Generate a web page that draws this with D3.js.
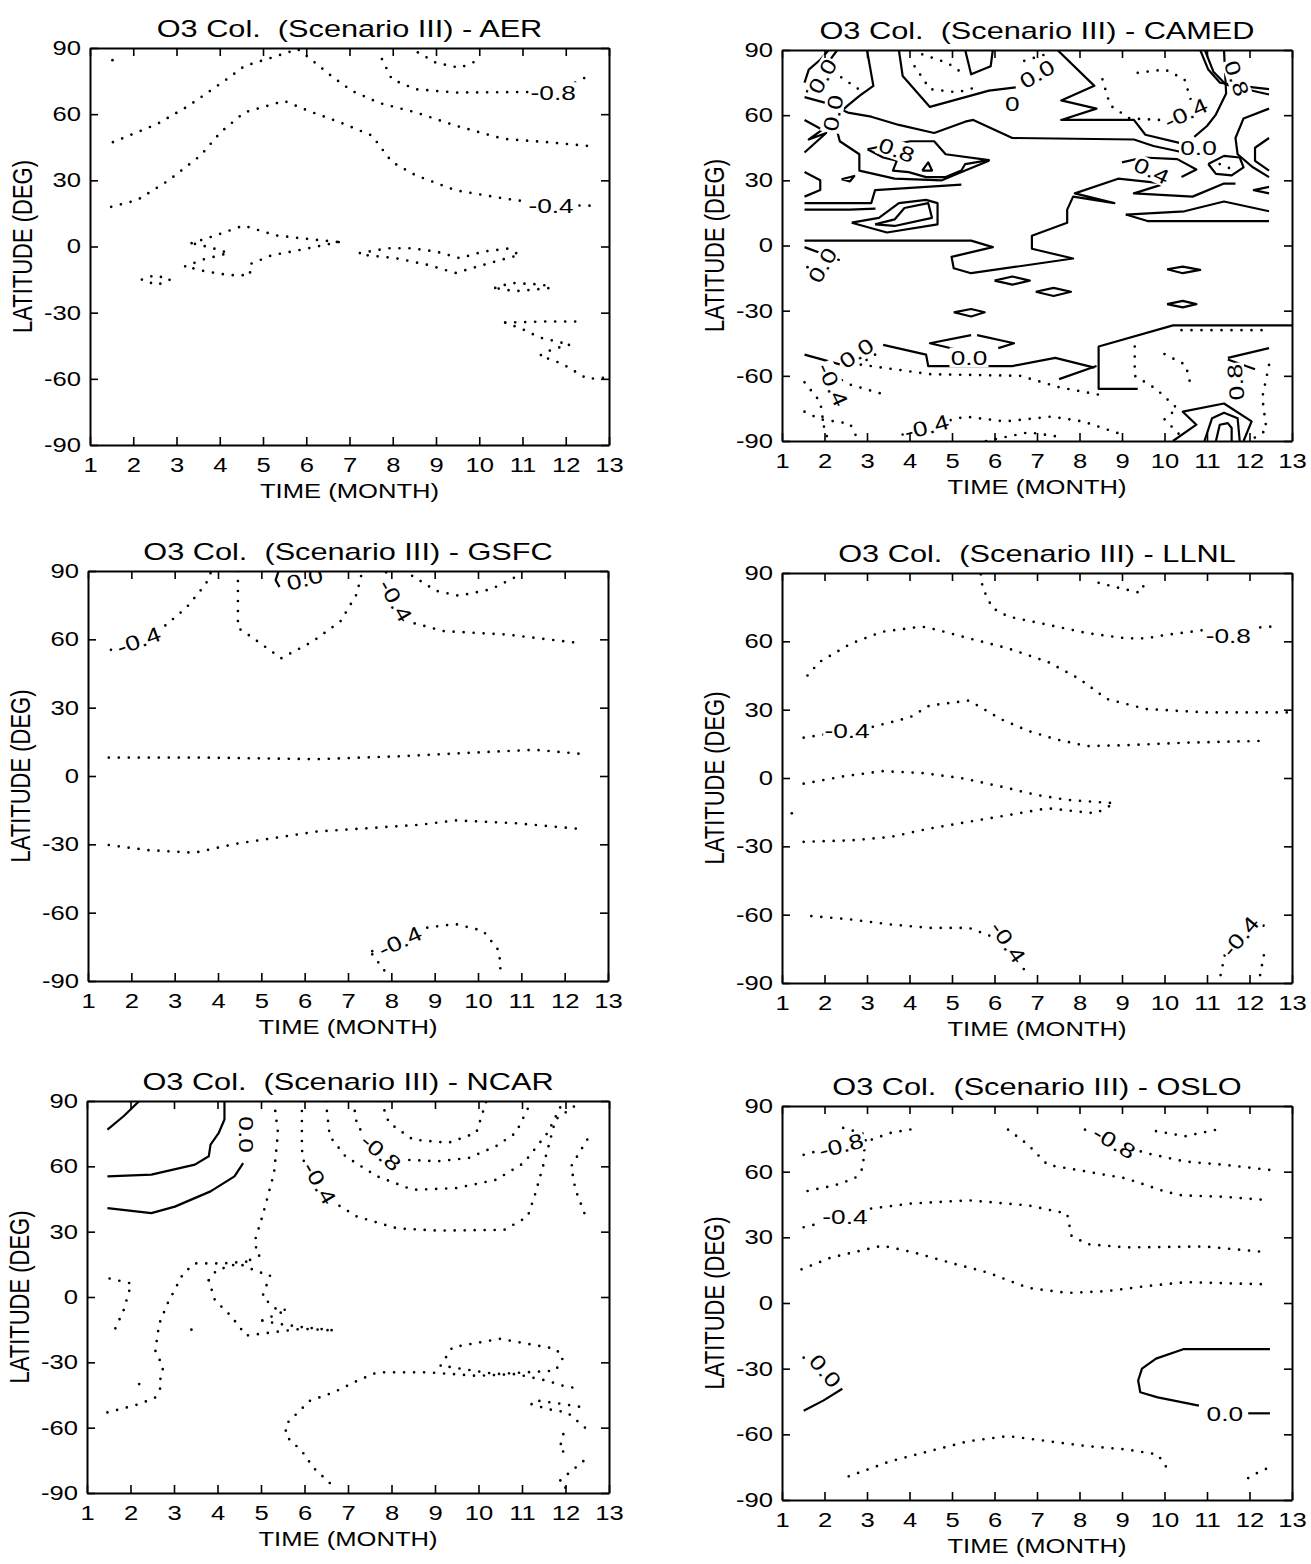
<!DOCTYPE html>
<html>
<head>
<meta charset="utf-8">
<script src="https://cdn.jsdelivr.net/npm/d3@7"></script>
<style>
body { margin: 0; background: #fff; }
svg text { font-family: "Liberation Sans", Arial, sans-serif; fill: #000; }
</style>
</head>
<body>
<svg id="chart" width="1311" height="1564"></svg>
<script>
// axis ticks
const monthTicks = d3.range(1, 14);
const latTicks = [-90, -60, -30, 0, 30, 60, 90];
const models = ['AER', 'CAMED', 'GSFC', 'LLNL', 'NCAR', 'OSLO'];

// contour polylines, [month, latitude]; "neg" = negative levels (dotted), "pos" = zero/positive (solid)
const aerNeg = [
  [[1.52, 84.5], [1.53, 84.5]],
  [[1.53, 47.3], [2.55, 55.5], [3.28, 63.8], [4.16, 75.8], [4.57, 81.8], [5.31, 86.3], [5.8, 89.5], [6.1, 85], [6.6, 77], [7.06, 70.5], [7.7, 65], [8.53, 60.8], [9.45, 54.8], [10.56, 48.8], [11.57, 47.3], [12.58, 45.5]],
  [[1.49, 18], [2.09, 21], [2.82, 30], [3.56, 41.3], [4.02, 51.8], [4.57, 60.8], [5.49, 66], [6.05, 61.5], [6.78, 56.3], [7.52, 50.3], [7.98, 38.3], [8.53, 32.3], [9.45, 25.5], [10.56, 21.8], [11.66, 18.8], [12.58, 18.5]],
  [[7.75, 85], [7.98, 75.8], [8.53, 71.3], [9.45, 69.8], [10.83, 70], [11.7, 70], [12.3, 75], [12.58, 78]],
  [[8.58, 88], [9.0, 83.3], [9.55, 81], [10.05, 85]],
  [[3.35, 1.5], [3.9, 5], [4.55, 9.5], [5.3, 5], [6.0, 3.5], [6.75, 2]],
  [[6.75, 2], [6.0, -1], [5.2, -4], [4.7, -8], [4.7, -13], [4.2, -13], [3.6, -11], [3.2, -9]],
  [[3.2, -9], [3.6, -6], [4.2, -3], [3.8, -0.5], [3.35, 1.5]],
  [[2.2, -15], [2.5, -13], [2.85, -15], [2.55, -17.5], [2.2, -15]],
  [[7.24, -3], [7.89, -0.8], [8.44, -0.8], [9.0, -2.3], [9.55, -5.3], [10.1, -2.3], [10.65, -1], [10.93, -3.8], [10.37, -6.8], [9.45, -12], [8.8, -8.3], [8.07, -5.3], [7.33, -3.8]],
  [[10.37, -18.8], [10.74, -16.5], [11.47, -17.3], [11.66, -18.8], [10.83, -20.3], [10.37, -18.8]],
  [[10.6, -34.5], [11.5, -34], [12.4, -34]],
  [[10.6, -34.5], [11.0, -37.5], [11.4, -41.3], [12.1, -44.5], [11.7, -46.5], [11.4, -49.5], [11.9, -53], [12.5, -60], [12.95, -59.5]]
];
const aerPos = [];
const aerLabels = [
  { t: '-0.8', m: 11.71, lat: 70, a: 0 },
  { t: '-0.4', m: 11.66, lat: 18.6, a: 0 }
];

const camedPos = [
  [[1.53, 75], [1.63, 81], [1.9, 85.5], [2.1, 90]],
  [[1.58, 70.5], [1.72, 77], [2.04, 83], [2.3, 90]],
  [[1.53, 68.3], [2.09, 65.3], [2.55, 61.2], [3.1, 59.3], [3.75, 55.5], [4.58, 51.8], [5.31, 57], [5.5, 57.8], [6.42, 49.5], [9.28, 48.8], [9.74, 45.8], [10.29, 43.5], [10.75, 41.3]],
  [[3.0, 90], [3.15, 73.5], [2.83, 69], [2.55, 64.5], [2.3, 60]],
  [[3.75, 90], [3.84, 78], [4.48, 63.8], [5.87, 71.3], [6.5, 72.8]],
  [[5.31, 90], [5.45, 78.8], [5.91, 82.5], [5.96, 90]],
  [[7.48, 90], [8.35, 73.5], [7.57, 66.8], [8.4, 63], [7.57, 57.8], [9.28, 57.8], [9.55, 51], [10.4, 47], [10.75, 44]],
  [[3.01, 44.3], [3.38, 45.8], [4.02, 48], [4.58, 48], [4.85, 42], [5.87, 39.3], [5.31, 37.5], [5.22, 34.5], [4.85, 31.5], [4.39, 31.5], [3.98, 33.8], [3.61, 34.5], [3.7, 39], [3.38, 40.5], [3.01, 44.3]],
  [[4.3, 34.5], [4.44, 38.3], [4.53, 34.5], [4.3, 34.5]],
  [[1.53, 57.8], [1.95, 53.3], [1.63, 48.8], [2.04, 51.8], [1.53, 42.8]],
  [[2.09, 61.5], [2.27, 54.8], [2.36, 48], [2.82, 42], [2.82, 34.5], [3.65, 30.8], [4.76, 30], [5.31, 34.5], [5.87, 39]],
  [[1.53, 33.8], [1.9, 30], [1.9, 25.5], [1.53, 22.5]],
  [[2.4, 30.5], [2.7, 32], [2.6, 29.5], [2.4, 30.5]],
  [[1.53, 19.5], [3.1, 19.5], [3.19, 25.5], [5.22, 28]],
  [[1.53, 16.5], [2.6, 16.5], [3.2, 17]],
  [[2.64, 10.5], [3.28, 12.75], [3.75, 19.5], [4.39, 21], [4.66, 19.5], [4.66, 9.75], [3.47, 6], [2.64, 10.5]],
  [[3.19, 9.75], [3.65, 12], [3.88, 17.25], [4.44, 19.5], [4.53, 12.75], [3.65, 9], [3.19, 9.75]],
  [[1.53, 2.25], [5.45, 2.25], [5.96, -0.75], [4.99, -5.25], [5.04, -10.5], [5.45, -12.75], [7.85, -6], [6.88, -1.5], [6.88, 4.5], [7.71, 10.5], [7.71, 16.5], [7.85, 22.5], [8.82, 19.5], [7.89, 24], [8.91, 30.75], [10.01, 28.5], [9.28, 24], [10.66, 22.5], [11.4, 28.5], [11.67, 28.5]],
  [[9.09, 14.25], [10.47, 15.75], [11.4, 20.25], [12.46, 15.75]],
  [[9.09, 14.25], [9.6, 11.25], [12.46, 11.25]],
  [[9.0, 38.25], [9.5, 40.5], [10.3, 39.75], [10.75, 35], [10.4, 31.5]],
  [[11.03, 37.5], [11.4, 41.25], [11.77, 40.5], [11.86, 36], [11.58, 32.25], [11.21, 33], [11.03, 37.5]],
  [[10.84, 90], [11.03, 81], [11.3, 75], [11.77, 73.5], [12.46, 72]],
  [[10.95, 90], [11.15, 80], [11.45, 74], [12.46, 69.5]],
  [[11.4, 90], [11.45, 70], [11.2, 60], [11.0, 55], [10.7, 50]],
  [[12.46, 63], [11.86, 58.5], [11.67, 49.5], [11.72, 42], [12.08, 36], [12.46, 31.5]],
  [[12.46, 49.5], [12.13, 45], [12.13, 39], [12.46, 34.5]],
  [[12.46, 27], [12.1, 25.5], [12.46, 24]],
  [[1.53, -0.75], [2.36, -6.75]],
  [[6.0, -16.2], [6.42, -14.25], [6.83, -16.2], [6.42, -18], [6.0, -16.2]],
  [[6.97, -21.3], [7.39, -19.5], [7.8, -21.3], [7.39, -23.25], [6.97, -21.3]],
  [[5.04, -30.75], [5.45, -29.25], [5.77, -30.75], [5.45, -32.7], [5.04, -30.75]],
  [[10.06, -10.95], [10.43, -9.75], [10.84, -11.25], [10.43, -12.75], [10.06, -10.95]],
  [[10.06, -27], [10.43, -25.5], [10.75, -27], [10.43, -28.5], [10.06, -27]],
  [[5.45, -41.25], [4.48, -45], [5.13, -48]],
  [[5.59, -41.25], [6.46, -45], [6.09, -47.25]],
  [[1.53, -50.25], [2.36, -54.75]],
  [[3.38, -45.75], [4.39, -50.25], [4.44, -55.5], [6.42, -55.5], [7.43, -51.75], [8.35, -56.25]],
  [[13, -36.75], [10.2, -36.75], [8.45, -46.5], [8.45, -66], [9.37, -66]],
  [[7.52, -61.5], [8.4, -55.5]],
  [[11.49, -51.75], [12.46, -47.25]],
  [[11.49, -52.5], [12.13, -57]],
  [[10.2, -90], [10.75, -82.5], [10.43, -76.5], [11.4, -72.75], [12.05, -81], [11.86, -90]],
  [[10.94, -90], [11.12, -79.5], [11.4, -77], [11.72, -79.5], [11.77, -90]],
  [[11.21, -90], [11.3, -82.5], [11.49, -81.75], [11.58, -84], [11.58, -90]]
];
const camedNeg = [
  [[4.12, 82.5], [4.48, 72], [5.13, 70.5], [5.6, 73]],
  [[4.3, 88], [4.9, 84], [5.2, 80]],
  [[6.7, 85], [7.2, 88]],
  [[8.54, 76.5], [8.72, 64.5], [9.18, 58.5], [9.92, 57.75]],
  [[9.37, 79.5], [10.01, 81], [10.47, 76.5], [10.66, 64.5], [10.38, 57]],
  [[2.2, 80], [2.5, 76], [2.8, 72]],
  [[11.3, 37.5], [11.6, 35]],
  [[1.6, -10], [1.65, -13]],
  [[3.19, -50.25], [2.82, -54.75], [3.65, -57], [4.48, -59.25], [6.6, -60], [7.52, -65.25], [8.54, -69]],
  [[1.53, -63], [1.9, -72], [2.0, -85], [2.1, -90]],
  [[1.53, -76.5], [1.9, -80], [2.6, -82], [2.8, -90]],
  [[2.2, -60], [2.6, -64], [3.3, -68]],
  [[3.84, -87], [4.39, -83.25], [5.31, -78.75], [6.24, -81], [7.34, -78.75], [8.08, -81], [9.0, -87]],
  [[5.8, -90], [6.8, -86], [7.5, -88]],
  [[10.4, -39], [11.5, -39], [12.46, -39]],
  [[9.3, -46.5], [9.3, -60], [9.8, -66], [10.3, -75], [10.0, -80], [10.4, -88]],
  [[10.0, -50], [10.5, -55], [10.6, -63]],
  [[12.46, -55], [12.3, -70], [12.4, -85], [12.0, -90]]
];
const camedLabels = [
  { t: '0.0', m: 1.95, lat: 78, a: -60 },
  { t: '0.0', m: 2.2, lat: 61, a: -80 },
  { t: '0.0', m: 7.0, lat: 79, a: -30 },
  { t: '0', m: 6.42, lat: 65.5, a: 0 },
  { t: '-0.4', m: 10.5, lat: 61, a: -25 },
  { t: '0.8', m: 3.7, lat: 44, a: 20 },
  { t: '0.0', m: 10.8, lat: 45, a: 0 },
  { t: '0.4', m: 9.7, lat: 34.5, a: 25 },
  { t: '0.8', m: 11.7, lat: 77, a: 70 },
  { t: '0.0', m: 1.95, lat: -9, a: -60 },
  { t: '0.0', m: 2.75, lat: -49.5, a: -35 },
  { t: '0.0', m: 5.4, lat: -51.5, a: 0 },
  { t: '-0.4', m: 2.2, lat: -64, a: 65 },
  { t: '-0.4', m: 4.4, lat: -83.5, a: -15 },
  { t: '0.8', m: 11.67, lat: -63, a: -95 }
];

const gsfcNeg = [
  [[1.53, 55.4], [2.17, 59.9], [2.63, 63.6], [3.27, 73.9], [3.72, 84.3], [3.85, 90]],
  [[4.46, 90], [4.46, 65], [4.64, 62.8], [5.46, 51.7], [6.19, 59.1], [6.83, 68], [7.2, 79.8], [7.33, 90]],
  [[7.88, 89.4], [8.1, 77], [8.48, 67.3], [9.21, 63.6], [10.67, 62.1], [12.32, 58.4]],
  [[8.48, 87.9], [9.03, 81.3], [9.57, 79.1], [10.3, 82], [10.85, 87.2]],
  [[1.48, 8.1], [3.54, 8.1], [6.28, 7.4], [8.11, 8.6], [9.94, 10.3], [11.31, 11.5], [12.45, 9.6]],
  [[1.48, -30.3], [2.35, -32.5], [3.45, -33.7], [4.46, -29.6], [6.28, -24.4], [8.66, -21.4], [9.48, -19.5], [10.85, -20.7], [12.45, -23.4]],
  [[7.56, -76.9], [8.16, -73.2], [8.84, -66.5], [9.48, -65], [10.12, -68], [10.49, -76.9], [10.53, -88.7]],
  [[7.56, -78.3], [7.97, -88.7]]
];
const gsfcPos = [
  [[5.4, 90], [5.33, 86], [5.42, 83]]
];
const gsfcLabels = [
  { t: '-0.4', m: 2.17, lat: 59.5, a: -20 },
  { t: '0.0', m: 6.0, lat: 86.5, a: -15 },
  { t: '-0.4', m: 8.1, lat: 77, a: 60 },
  { t: '-0.4', m: 8.2, lat: -72.5, a: -25 }
];

const llnlNeg = [
  [[5.68, 89.4], [5.72, 83.5], [5.95, 74.6], [6.32, 70.9], [7.25, 67.3], [8.18, 63.6], [9.1, 61.3], [9.56, 61.3], [10.03, 62.8], [10.95, 65], [11.5, 63], [12.16, 66], [12.53, 66.5]],
  [[8.45, 85.7], [8.92, 83.5], [9.43, 81.3], [9.56, 86.5]],
  [[1.6, 45], [1.88, 50.9], [2.62, 59], [3.36, 64.2], [4.29, 66.5], [4.66, 65], [5.4, 61.3], [6.32, 56.9], [7.25, 51], [7.99, 43.6], [8.64, 34.7], [9.56, 30.3], [10.95, 28.8], [12.06, 28.8], [13, 28.8]],
  [[1.51, 17.7], [2.53, 20.7], [3.08, 22.2], [4.01, 26.6], [4.47, 31.8], [5.4, 34], [5.68, 31], [6.14, 25.9], [6.79, 20.7], [7.44, 17], [8.18, 14], [9.1, 14.4], [10.49, 15.5], [12.34, 16.3]],
  [[1.51, -2.5], [2.44, 0.7], [3.36, 3], [4.29, 2.2], [5.21, 0], [6.14, -3.7], [6.97, -7.4], [7.71, -9.6], [8.82, -11.1]],
  [[1.51, -28], [2.62, -27.4], [3.55, -25.9], [4.47, -22.2], [5.4, -19.2], [6.32, -16.3], [7.25, -13.3], [8.36, -15.5], [8.55, -14], [8.82, -11.1]],
  [[1.23, -15.5], [1.24, -15.5]],
  [[1.69, -60.6], [2.62, -62.1], [3.55, -64.3], [4.47, -65.8], [5.4, -65.8], [6.23, -71.7], [6.5, -79], [6.79, -86.5]],
  [[11.32, -86.5], [11.42, -77.6], [11.8, -70.2], [12.25, -65], [12.53, -64.3]],
  [[12.25, -86.5], [12.34, -77.6]]
];
const llnlPos = [];
const llnlLabels = [
  { t: '-0.8', m: 11.5, lat: 62.8, a: 0 },
  { t: '-0.4', m: 2.53, lat: 20.7, a: 0 },
  { t: '-0.4', m: 6.32, lat: -72, a: 55 },
  { t: '-0.4', m: 11.78, lat: -69.5, a: -50 }
];

const ncarPos = [
  [[1.47, 76.9], [1.84, 83], [2.16, 89.2], [2.2, 90]],
  [[1.47, 55.4], [2.48, 56.2], [3.48, 60.8], [3.8, 64.6], [3.84, 70], [4.03, 75.4], [4.16, 81.5], [4.16, 90]],
  [[1.47, 40.8], [2.48, 38.5], [3.02, 41.5], [3.84, 48.5], [4.39, 55.4], [4.59, 61.5]]
];
const ncarNeg = [
  [[5.3, 90], [5.39, 75.4], [5.3, 56.9], [5.03, 36.9], [4.84, 24.6], [4.98, 19.2], [4.66, 16.2]],
  [[5.94, 90], [5.94, 67.7], [6.03, 56.9], [6.3, 52.3], [6.58, 44.6], [7.21, 36.9], [8.13, 31.5], [9.04, 30.5], [10.59, 30.8], [11.13, 36.9], [11.31, 47.7], [11.59, 67.7], [11.77, 81.5], [12.32, 89.2]],
  [[6.49, 90], [6.58, 73.8], [6.94, 64.6], [7.67, 55.4], [8.49, 49.2], [9.49, 50], [10.4, 53.8], [11.04, 61.5], [11.59, 75.4], [11.95, 90]],
  [[7.12, 90], [7.21, 78.5], [7.71, 67.7], [8.22, 63.1], [9.04, 62.3], [9.77, 63.8], [10.4, 69.2], [10.86, 75.4], [11.22, 90]],
  [[7.76, 90], [7.94, 80], [8.49, 72.3], [9.31, 70.8], [9.95, 75.4], [10.18, 90]],
  [[12.5, 72.3], [12.13, 60], [12.23, 49.2], [12.45, 37.7]],
  [[1.52, 8.5], [2.02, 6.2], [1.84, -6.2], [1.61, -16.2]],
  [[4.66, 16.2], [4.12, 15.4], [3.48, 15.4], [3.21, 10.8], [2.85, -3.1], [2.66, -12.3], [2.57, -24.6], [2.75, -32.3], [2.66, -40], [2.71, -45.4]],
  [[3.8, 7.7], [3.98, 12.3], [4.48, 15.4], [4.94, 11.5], [5.21, 10], [5.03, 0], [5.39, -6.2], [5.76, -5.4]],
  [[3.8, 7.7], [3.94, -1.5], [4.3, -8.5], [4.66, -17.7], [5.94, -14.6], [6.71, -15.4]],
  [[5.03, -10.8], [5.39, -12.3], [5.94, -13.8], [6.71, -15.4]],
  [[5.03, -10.8], [5.57, -6.2]],
  [[3.4, -15], [3.6, -15]],
  [[1.47, -53], [2.2, -49.2], [2.66, -45.4]],
  [[2.2, -40], [2.35, -37]],
  [[6.58, -85.4], [6.21, -78.5], [5.94, -70.8], [5.57, -63.8], [5.57, -58.5], [6.12, -47.7], [6.67, -43.8], [7.21, -38.5], [7.67, -34.6], [8.85, -34.6], [9.95, -36.2], [10.86, -35.4], [11.59, -38.5], [11.95, -40.8], [12.36, -42.3]],
  [[9.13, -31.5], [9.4, -23.1], [10.49, -19.2], [11.77, -23.8], [11.95, -27.7], [11.77, -33.8], [10.4, -35.4], [9.13, -31.5]],
  [[11.22, -49.2], [11.59, -51.5], [12.04, -53], [12.45, -60], [12.41, -63.1]],
  [[11.4, -47.7], [11.95, -49.2], [12.45, -50.8]],
  [[12.41, -75.4], [12.13, -80], [11.86, -84.6], [12.04, -88.5]],
  [[11.95, -63], [11.86, -70], [12.13, -73]]
];
const ncarLabels = [
  { t: '0.0', m: 4.66, lat: 74.6, a: 90 },
  { t: '-0.8', m: 7.76, lat: 66.5, a: 40 },
  { t: '-0.4', m: 6.35, lat: 52.3, a: 60 }
];

const osloNeg = [
  [[1.51, 67.7], [2.39, 72.3], [2.99, 73.8], [3.55, 77.7], [4.24, 80]],
  [[2.44, 80], [2.99, 76.9], [2.94, 70.8], [2.9, 61.5], [2.71, 56.9], [2.25, 53.8], [1.51, 50.8]],
  [[6.32, 79.2], [6.79, 72.3], [7.25, 63.1], [8.18, 60], [9.1, 56.9], [10.03, 50.8], [10.4, 49.2], [11.42, 48.5], [12.48, 46.9]],
  [[8.13, 79.2], [8.82, 73.1], [9.56, 68.5], [10.49, 64.6], [11.42, 63.1], [12.48, 60.8]],
  [[9.8, 78.5], [10.49, 76.2], [11.23, 79.2]],
  [[1.51, 34.6], [2.48, 39.2], [3.08, 43.1], [4.01, 45.4], [5.4, 46.9], [6.79, 44.6], [7.71, 40.8], [7.81, 30.8], [8.18, 26.9], [9.1, 25.4], [10.95, 25.8], [12.3, 23.4]],
  [[1.46, 15.4], [2.16, 20.8], [3.36, 26.2], [4.1, 23.1], [4.94, 18.5], [5.86, 13.8], [6.79, 6.9], [7.71, 4.6], [8.64, 5.4], [9.56, 7.7], [10.49, 9.5], [12.48, 8.5]],
  [[2.57, -79.2], [3.55, -72.3], [4.47, -67.7], [5.4, -63.1], [6.32, -60.8], [7.25, -63.1], [8.18, -65.4], [9.1, -66.9], [9.84, -69.2], [10.03, -74.6], [10.12, -78.5]],
  [[11.97, -80], [12.25, -76.9], [12.44, -75.4]],
  [[1.51, -25], [1.52, -25]]
];
const osloPos = [
  [[1.51, -49.2], [1.97, -44.6], [2.42, -39.2]],
  [[12.48, -21.1], [10.44, -21.1], [9.8, -25.4], [9.47, -30], [9.38, -35.4], [9.43, -40.8], [9.84, -43.1], [10.81, -46.9]],
  [[11.97, -50.4], [12.48, -50.4]]
];
const osloLabels = [
  { t: '-0.8', m: 2.39, lat: 72, a: -15 },
  { t: '-0.8', m: 8.82, lat: 73.5, a: 30 },
  { t: '-0.4', m: 2.48, lat: 39.5, a: 0 },
  { t: '0.0', m: 2.02, lat: -31, a: 50 },
  { t: '0.0', m: 11.42, lat: -50.4, a: 0 }
];

const panelNeg = [aerNeg, camedNeg, gsfcNeg, llnlNeg, ncarNeg, osloNeg];
const panelPos = [aerPos, camedPos, gsfcPos, llnlPos, ncarPos, osloPos];
const panelLabels = [aerLabels, camedLabels, gsfcLabels, llnlLabels, ncarLabels, osloLabels];

// plot frames on the page
const boxes = [
  { x0: 90, x1: 609, y0: 48, y1: 445 },
  { x0: 782, x1: 1292, y0: 50, y1: 441 },
  { x0: 88, x1: 608, y0: 571, y1: 981 },
  { x0: 782, x1: 1292, y0: 573, y1: 983 },
  { x0: 87, x1: 609, y0: 1101, y1: 1493 },
  { x0: 782, x1: 1292, y0: 1106, y1: 1500 }
];

// the scanned page is stretched sideways, so the lettering is too
const stretch = 1.28;

const svg = d3.select('#chart');

function draw_panel(i) {
  const box = boxes[i];
  const x = d3.scaleLinear().domain([1, 13]).range([box.x0, box.x1]);
  const y = d3.scaleLinear().domain([-90, 90]).range([box.y1, box.y0]);
  const g = svg.append('g');

  g.append('clipPath').attr('id', 'clip' + i)
    .append('rect')
    .attr('x', box.x0).attr('y', box.y0)
    .attr('width', box.x1 - box.x0).attr('height', box.y1 - box.y0);

  const line = d3.line().x(d => x(d[0])).y(d => y(d[1]));
  const plot = g.append('g').attr('clip-path', 'url(#clip' + i + ')');

  plot.selectAll('path.neg').data(panelNeg[i]).join('path')
    .attr('class', 'neg')
    .attr('d', line)
    .attr('fill', 'none')
    .attr('stroke', '#000')
    .attr('stroke-width', 2.7)
    .attr('stroke-linecap', 'round')
    .attr('stroke-dasharray', '0 10');

  plot.selectAll('path.pos').data(panelPos[i]).join('path')
    .attr('class', 'pos')
    .attr('d', line)
    .attr('fill', 'none')
    .attr('stroke', '#000')
    .attr('stroke-width', 2.2)
    .attr('stroke-linejoin', 'round');

  // contour labels with a white patch that breaks the line
  const labs = plot.selectAll('g.lab').data(panelLabels[i]).join('g')
    .attr('class', 'lab')
    .attr('transform', d => 'translate(' + x(d.m) + ',' + y(d.lat) + ') rotate(' + d.a + ') scale(1.25,1)');
  labs.each(function (d) {
    const lg = d3.select(this);
    const rect = lg.append('rect').attr('fill', '#fff');
    const t = lg.append('text')
      .attr('text-anchor', 'middle')
      .attr('dy', '0.36em')
      .attr('font-size', 21)
      .text(d.t);
    const bb = t.node().getBBox();
    rect.attr('x', bb.x - 1).attr('y', bb.y + 2).attr('width', bb.width + 2).attr('height', bb.height - 4);
  });

  // axes, ticks pointing inward
  const bottom = g.append('g').attr('transform', 'translate(0,' + box.y1 + ')')
    .call(d3.axisBottom(x).tickValues(monthTicks).tickSize(-8).tickSizeOuter(0).tickPadding(13).tickFormat(d => String(d)));
  const top = g.append('g').attr('transform', 'translate(0,' + box.y0 + ')')
    .call(d3.axisTop(x).tickValues(monthTicks).tickSize(-8).tickSizeOuter(0).tickFormat(''));
  const left = g.append('g').attr('transform', 'translate(' + box.x0 + ',0)')
    .call(d3.axisLeft(y).tickValues(latTicks).tickSize(-8).tickSizeOuter(0).tickPadding(7).tickFormat(d => String(d)));
  const right = g.append('g').attr('transform', 'translate(' + box.x1 + ',0)')
    .call(d3.axisRight(y).tickValues(latTicks).tickSize(-8).tickSizeOuter(0).tickFormat(''));

  [bottom, top, left, right].forEach(ax => {
    ax.select('.domain').attr('stroke', '#000').attr('stroke-width', 2);
    ax.selectAll('.tick line').attr('stroke', '#000').attr('stroke-width', 1.6);
    ax.selectAll('.tick text').attr('font-size', 20).attr('font-family', null).attr('fill', '#000')
      .attr('transform', 'scale(' + stretch + ',1)');
  });

  g.append('text')
    .attr('transform', 'translate(' + ((box.x0 + box.x1) / 2) + ',' + (box.y0 - 11) + ') scale(' + stretch + ',1)')
    .attr('text-anchor', 'middle')
    .attr('font-size', 24)
    .style('white-space', 'pre')
    .text('O3 Col.  (Scenario III) - ' + models[i]);

  g.append('text')
    .attr('transform', 'translate(' + ((box.x0 + box.x1) / 2) + ',' + (box.y1 + 53) + ') scale(' + stretch + ',1)')
    .attr('text-anchor', 'middle')
    .attr('font-size', 20)
    .text('TIME (MONTH)');

  g.append('text')
    .attr('transform', 'translate(' + (box.x0 - 58) + ',' + ((box.y0 + box.y1) / 2) + ') rotate(-90) scale(1,' + stretch + ')')
    .attr('text-anchor', 'middle')
    .attr('font-size', 22)
    .text('LATITUDE (DEG)');
}

models.forEach((m, i) => draw_panel(i));
</script>
</body>
</html>
